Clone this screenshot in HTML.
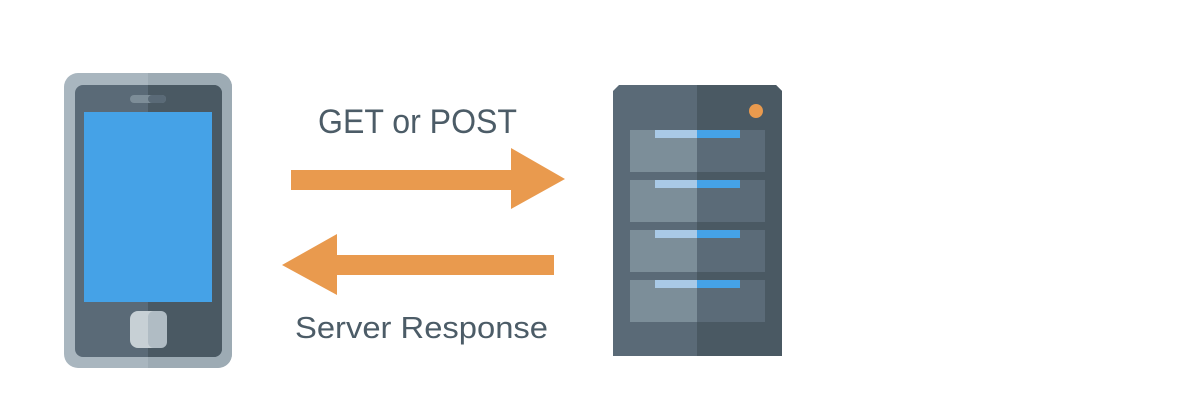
<!DOCTYPE html>
<html><head><style>html,body{margin:0;padding:0;background:#fff;width:1200px;height:404px;overflow:hidden}</style></head>
<body>
<svg width="1200" height="404" viewBox="0 0 1200 404" xmlns="http://www.w3.org/2000/svg">
<!-- phone -->
<rect x="64" y="73" width="168" height="295" rx="14" fill="#a9b6bf"/>
<path d="M148 73 H218 a14 14 0 0 1 14 14 V354 a14 14 0 0 1 -14 14 H148 Z" fill="#9dabb4"/>
<rect x="75" y="85" width="147" height="272" rx="8" fill="#5a6a77"/>
<path d="M148 85 H214 a8 8 0 0 1 8 8 V349 a8 8 0 0 1 -8 8 H148 Z" fill="#4a5963"/>
<rect x="84" y="112" width="128" height="190" fill="#45a2e7"/>
<rect x="130" y="95" width="36" height="8" rx="4" fill="#7d8d98"/>
<rect x="148" y="95" width="18" height="8" rx="4" fill="#5a6a77"/>
<rect x="130" y="311" width="37" height="37" rx="8" fill="#c7d0d5"/>
<rect x="148" y="311" width="19" height="37" rx="6" fill="#b0bcc4"/>
<!-- server -->
<path d="M619 85 H776 l6 6 V356 H613 V91 Z" fill="#5a6a77"/>
<path d="M697 85 H776 l6 6 V356 H697 Z" fill="#4a5963"/>
<circle cx="756" cy="111" r="7" fill="#e99a4e"/>
<g>
<rect x="630" y="130" width="67" height="42" fill="#7c8e99"/><rect x="697" y="130" width="68" height="42" fill="#5b6b78"/>
<rect x="630" y="180" width="67" height="42" fill="#7c8e99"/><rect x="697" y="180" width="68" height="42" fill="#5b6b78"/>
<rect x="630" y="230" width="67" height="42" fill="#7c8e99"/><rect x="697" y="230" width="68" height="42" fill="#5b6b78"/>
<rect x="630" y="280" width="67" height="42" fill="#7c8e99"/><rect x="697" y="280" width="68" height="42" fill="#5b6b78"/>
<rect x="655" y="130" width="42" height="8" fill="#a9c9e6"/><rect x="697" y="130" width="43" height="8" fill="#45a2e7"/>
<rect x="655" y="180" width="42" height="8" fill="#a9c9e6"/><rect x="697" y="180" width="43" height="8" fill="#45a2e7"/>
<rect x="655" y="230" width="42" height="8" fill="#a9c9e6"/><rect x="697" y="230" width="43" height="8" fill="#45a2e7"/>
<rect x="655" y="280" width="42" height="8" fill="#a9c9e6"/><rect x="697" y="280" width="43" height="8" fill="#45a2e7"/>
</g>
<!-- arrows -->
<polygon points="291,170 511,170 511,148 565,179 511,209 511,190 291,190" fill="#e99a4e"/>
<polygon points="282,265 337,234 337,255 554,255 554,275 337,275 337,295" fill="#e99a4e"/>
<text x="318" y="133" font-family="Liberation Sans, sans-serif" font-size="34" fill="#4c5c67" textLength="199" lengthAdjust="spacingAndGlyphs">GET or POST</text>
<text x="295" y="338" font-family="Liberation Sans, sans-serif" font-size="31" fill="#4c5c67" textLength="253" lengthAdjust="spacingAndGlyphs">Server Response</text>
</svg>
</body></html>
